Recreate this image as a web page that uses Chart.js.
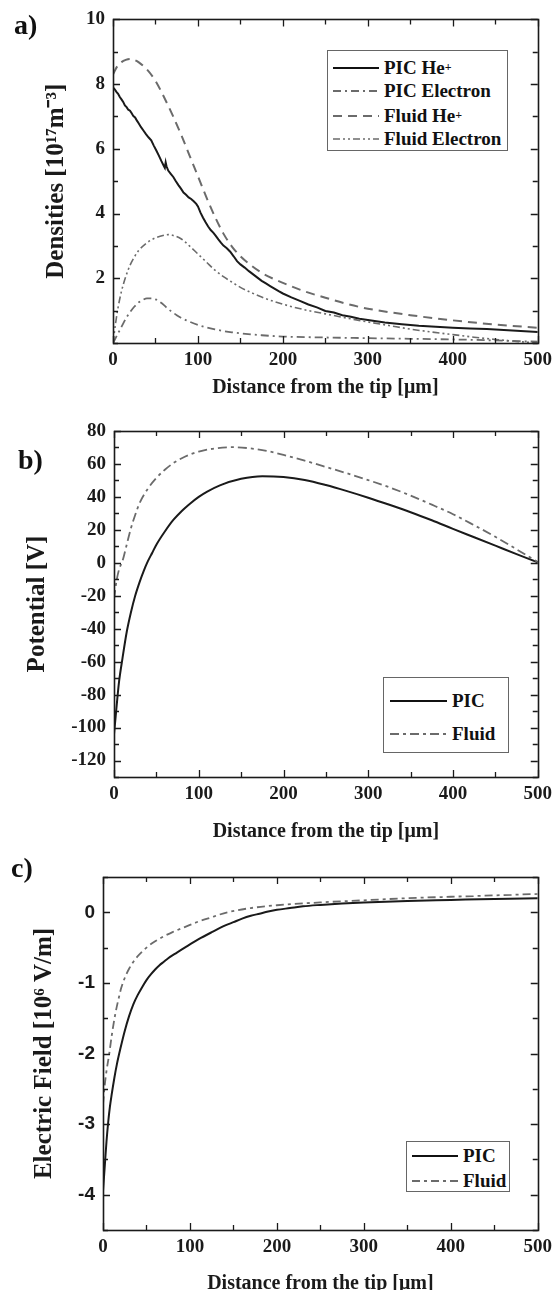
<!DOCTYPE html>
<html><head><meta charset="utf-8">
<script src="https://cdn.jsdelivr.net/npm/chart.js@4.4.1/dist/chart.umd.min.js"></script>
<style>
html,body{margin:0;padding:0;background:#fff;overflow:hidden;width:558px;height:1290px;position:relative}
canvas{position:absolute;left:0}
.lbl{position:absolute;font:bold 28px 'Liberation Serif',serif;color:#111;line-height:28px}
.leg{position:absolute;border:1px solid #666;background:#fff;box-sizing:border-box}
.row{position:absolute;display:flex;align-items:center;font:bold 19px 'Liberation Serif',serif;color:#111;white-space:nowrap;height:22px}
.row svg{margin-right:5px}
sup{font-size:12px;line-height:0;position:relative;top:-1px}
</style></head>
<body>
<canvas id="ca" width="558" height="405" style="top:0"></canvas>
<canvas id="cb" width="558" height="445" style="top:405px"></canvas>
<canvas id="cc" width="558" height="460" style="top:850px"></canvas>

<div class="lbl" style="left:14px;top:11px">a)</div>
<div class="lbl" style="left:18px;top:446px">b)</div>
<div class="lbl" style="left:11px;top:854px">c)</div>

<div class="leg" style="left:327px;top:50px;width:181px;height:101px">
  <div class="row" style="left:5px;top:6px"><svg width="46" height="6"><line x1="0" y1="3" x2="46" y2="3" stroke="#111" stroke-width="2"/></svg>PIC He<sup>+</sup></div>
  <div class="row" style="left:5px;top:29px"><svg width="46" height="6"><line x1="0" y1="3" x2="46" y2="3" stroke="#6b6b6b" stroke-width="1.8" stroke-dasharray="8,4,2,4"/></svg>PIC Electron</div>
  <div class="row" style="left:5px;top:54px"><svg width="46" height="6"><line x1="0" y1="3" x2="46" y2="3" stroke="#6b6b6b" stroke-width="2" stroke-dasharray="9,6"/></svg>Fluid He<sup>+</sup></div>
  <div class="row" style="left:5px;top:77px"><svg width="46" height="6"><line x1="0" y1="3" x2="46" y2="3" stroke="#6b6b6b" stroke-width="1.6" stroke-dasharray="7,3,2,3,2,3"/></svg>Fluid Electron</div>
</div>

<div class="leg" style="left:383px;top:677px;width:126px;height:76px">
  <div class="row" style="left:6px;top:12px"><svg width="57" height="6"><line x1="0" y1="3" x2="57" y2="3" stroke="#111" stroke-width="2"/></svg>PIC</div>
  <div class="row" style="left:6px;top:45px"><svg width="57" height="6"><line x1="0" y1="3" x2="57" y2="3" stroke="#6b6b6b" stroke-width="1.8" stroke-dasharray="9,4,3,4"/></svg>Fluid</div>
</div>

<div class="leg" style="left:406px;top:1141px;width:104px;height:51px">
  <div class="row" style="left:5px;top:3px"><svg width="46" height="6"><line x1="0" y1="3" x2="46" y2="3" stroke="#111" stroke-width="2"/></svg>PIC</div>
  <div class="row" style="left:5px;top:28px"><svg width="46" height="6"><line x1="0" y1="3" x2="46" y2="3" stroke="#6b6b6b" stroke-width="1.8" stroke-dasharray="8,4,3,4"/></svg>Fluid</div>
</div>

<script>
// ---------- Panel a: densities ----------
const picHeX = [0,2,4,6,8,10,12,14,16,18,20,22,24,26,28,30,33,36,39,42,45,48,51,54,57,60,61,62,63,65,68,71,74,77,80,83,86,89,92,95,98,100,103,106,109,112,115,118,121,124,127,130,134,138,142,146,150,155,160,165,170,175,180,185,190,195,200,210,220,230,240,250,260,270,280,290,300,320,340,360,380,400,420,440,460,480,500];
const picHeY = [7.9,7.84,7.76,7.7,7.6,7.53,7.45,7.34,7.29,7.21,7.18,7.1,7.01,6.97,6.88,6.8,6.67,6.56,6.45,6.35,6.26,6.1,5.95,5.79,5.62,5.46,5.41,5.58,5.46,5.33,5.23,5.13,5.0,4.88,4.77,4.65,4.58,4.5,4.45,4.38,4.3,4.22,4.03,3.87,3.73,3.6,3.49,3.41,3.31,3.2,3.1,3.01,2.93,2.82,2.68,2.53,2.43,2.33,2.22,2.12,2.02,1.92,1.84,1.76,1.68,1.6,1.53,1.41,1.3,1.19,1.1,0.99,0.94,0.86,0.81,0.75,0.71,0.63,0.58,0.53,0.5,0.47,0.45,0.43,0.4,0.37,0.34];
const picElX = [0,5,10,15,20,25,30,35,40,45,50,55,60,65,70,75,80,90,100,110,120,130,140,150,175,200,250,300,350,400,450,500];
const picElY = [0,0.25,0.5,0.75,0.95,1.12,1.25,1.33,1.38,1.38,1.35,1.27,1.17,1.05,0.95,0.86,0.78,0.66,0.56,0.48,0.42,0.37,0.33,0.3,0.24,0.2,0.17,0.15,0.13,0.11,0.08,0.04];
const fluHeX = [0,5,10,15,20,25,30,40,50,60,70,80,90,100,110,120,130,140,150,160,175,190,200,225,250,275,300,350,400,450,500];
const fluHeY = [8.3,8.55,8.68,8.75,8.78,8.75,8.68,8.45,8.1,7.6,7.05,6.45,5.8,5.15,4.5,3.9,3.38,2.98,2.68,2.45,2.17,1.97,1.86,1.6,1.4,1.21,1.06,0.86,0.7,0.57,0.47];
const fluElX = [0,3,6,10,15,20,25,30,40,50,60,65,70,80,90,100,110,120,130,140,150,175,200,225,250,275,300,325,350,375,400,425,450,475,500];
const fluElY = [0,0.6,1.1,1.6,2.05,2.4,2.65,2.85,3.1,3.25,3.33,3.35,3.33,3.22,3.0,2.75,2.5,2.25,2.05,1.88,1.72,1.42,1.2,1.03,0.9,0.77,0.65,0.54,0.43,0.34,0.26,0.18,0.11,0.05,0];
const aYMajor = [2,4,6,8,10];
const aYMinor = [0,1,3,5,7,9];

// ---------- Panel b: potential ----------
const potPicX = [0,2,4,6,10,15,20,25,30,35,40,45,50,60,70,80,90,100,110,125,150,175,200,225,250,275,300,325,350,375,400,425,450,475,500];
const potPicY = [-104,-93,-82,-72,-58,-42,-30,-20,-12,-5,1,6,11,19,26,31.5,36,40,43.2,47,51,52.6,52.1,50.3,47.2,43.5,39.5,35.2,30.7,25.8,20.6,15.5,10.4,5.3,0.3];
const potFluX = [0,3,6,10,15,20,25,30,40,50,60,70,80,90,100,120,140,160,180,200,225,250,275,300,325,350,375,400,425,450,475,500];
const potFluY = [-22,-11,-4,1,11,21,29,36,45,51.5,56.5,60.5,63.5,65.8,67.5,69.5,70.2,69.5,68,65.5,62,58.2,54.3,50.2,45.8,40.8,35.3,29.5,22.8,15.8,8.2,0.5];
const bYMajor = [-120,-100,-80,-60,-40,-20,0,20,40,60,80];
const bYMinor = [-130,-110,-90,-70,-50,-30,-10,10,30,50,70];

// ---------- Panel c: electric field ----------
const efPicX = [0,2,4,6,8,10,13,16,20,25,30,35,40,45,50,55,60,65,70,75,85,94,110,127,140,150,160,170,180,190,200,215,230,250,275,300,350,400,450,500];
const efPicY = [-3.95,-3.6,-3.25,-2.97,-2.75,-2.58,-2.35,-2.15,-1.93,-1.68,-1.47,-1.3,-1.17,-1.06,-0.96,-0.88,-0.81,-0.75,-0.7,-0.65,-0.57,-0.5,-0.38,-0.27,-0.19,-0.14,-0.09,-0.05,-0.02,0.01,0.035,0.06,0.085,0.105,0.125,0.14,0.16,0.175,0.19,0.2];
const efFluX = [0,2,4,7,10,14,18,21,25,30,35,40,52,60,70,80,94,110,120,143,170,200,250,300,350,400,450,500];
const efFluY = [-2.72,-2.45,-2.25,-2.02,-1.75,-1.45,-1.22,-1.07,-0.93,-0.8,-0.7,-0.62,-0.48,-0.41,-0.34,-0.28,-0.21,-0.13,-0.09,0.0,0.06,0.1,0.14,0.17,0.2,0.22,0.24,0.26];
const cYMajor = [-4,-3,-2,-1,0];
const cYMinor = [-4.5,-3.5,-2.5,-1.5,-0.5,0.5];

const xMajor = [0,100,200,300,400,500];
const xMinor = [50,150,250,350,450];

// ---------- helpers ----------
const SERIF = "'Liberation Serif','Times New Roman',serif";
const SANS = "'Liberation Sans',Arial,sans-serif";
const INK = '#1a1a1a', GREY = '#6b6b6b';
const pts = (xs, ys) => xs.map((x, i) => ({x, y: ys[i]}));
const setTicks = (major, minor) => s => { s.ticks = major.concat(minor).sort((a,b)=>a-b).map(v => ({value: v})); };
const showMajor = major => v => major.includes(v) ? String(v) : '';

// draws the plot frame and the inward major/minor tick marks on all four sides
const frameTicks = {
  id: 'frameTicks',
  afterDraw(chart, args, opts) {
    const {ctx, chartArea: a, scales} = chart;
    const xs = scales.x, ys = scales.y;
    ctx.save();
    ctx.strokeStyle = INK;
    ctx.lineWidth = 1.3;
    ctx.beginPath();
    xs.ticks.forEach(t => {
      const p = Math.round(xs.getPixelForValue(t.value)) + 0.5;
      const L = opts.xMajor.includes(t.value) ? 7 : 5;
      ctx.moveTo(p, a.bottom); ctx.lineTo(p, a.bottom - L);
      ctx.moveTo(p, a.top); ctx.lineTo(p, a.top + L);
    });
    ys.ticks.forEach(t => {
      const p = Math.round(ys.getPixelForValue(t.value)) + 0.5;
      const L = opts.yMajor.includes(t.value) ? 7 : 5;
      ctx.moveTo(a.left, p); ctx.lineTo(a.left + L, p);
      ctx.moveTo(a.right, p); ctx.lineTo(a.right - L, p);
    });
    ctx.stroke();
    ctx.lineWidth = 1.6;
    ctx.strokeRect(Math.round(a.left) + 0.5, Math.round(a.top) + 0.5,
                   Math.round(a.right - a.left), Math.round(a.bottom - a.top));
    ctx.restore();
  }
};

function makeScales(o) {
  return {
    x: {
      type: 'linear', position: 'bottom', min: 0, max: 500,
      afterBuildTicks: setTicks(xMajor, xMinor),
      afterFit: s => { s.height = o.xH; },
      border: {display: false},
      grid: {display: false, drawTicks: false},
      ticks: {autoSkip: false, maxRotation: 0, padding: 6, color: INK,
              font: {family: SERIF, weight: 'bold', size: 19}, callback: showMajor(xMajor)},
      title: {display: true, text: 'Distance from the tip [μm]', color: INK,
              font: {family: SERIF, weight: 'bold', size: 20}, padding: {top: 0, bottom: o.xtPad}}
    },
    y: {
      type: 'linear', position: 'left', min: o.ymin, max: o.ymax,
      afterBuildTicks: setTicks(o.yMajor, o.yMinor),
      afterFit: s => { s.width = o.left; },
      border: {display: false},
      grid: {display: false, drawTicks: false},
      ticks: {autoSkip: false, padding: 8, color: INK,
              font: {family: o.yFont, weight: 'bold', size: o.yFs}, callback: showMajor(o.yMajor)},
      title: {display: true, text: o.yTitle, color: INK,
              font: {family: SERIF, weight: 'bold', size: 25}, padding: {top: o.ytPad, bottom: 0}}
    }
  };
}

function ds(label, xs, ys, color, width, dash, smooth) {
  return {label, data: pts(xs, ys), borderColor: color, borderWidth: width, borderDash: dash,
          pointRadius: 0, fill: false, tension: 0,
          cubicInterpolationMode: smooth ? 'monotone' : 'default'};
}

function make(id, datasets, o) {
  new Chart(document.getElementById(id), {
    type: 'line',
    data: {datasets},
    options: {
      responsive: false, animation: false, devicePixelRatio: 1,
      layout: {padding: {top: o.top, right: o.right, left: 0, bottom: 0}},
      plugins: {legend: {display: false}, tooltip: {enabled: false},
                frameTicks: {xMajor: xMajor, yMajor: o.yMajor}},
      scales: makeScales(o)
    },
    plugins: [frameTicks]
  });
}

make('ca', [
  ds('Fluid Electron', fluElX, fluElY, GREY, 1.6, [7,3,2,3,2,3], true),
  ds('PIC Electron', picElX, picElY, GREY, 1.8, [8,4,2,4], true),
  ds('Fluid He+', fluHeX, fluHeY, GREY, 2, [9,6], true),
  ds('PIC He+', picHeX, picHeY, INK, 2, [], false)
], {xH: 62, xtPad: 5, top: 18, left: 113, right: 17, ymin: 0, ymax: 10,
    yMajor: aYMajor, yMinor: aYMinor, yFont: SERIF, yFs: 19,
    yTitle: 'Densities [10¹⁷m⁻³]', ytPad: 42});

make('cb', [
  ds('Fluid', potFluX, potFluY, GREY, 1.8, [9,4,3,4], true),
  ds('PIC', potPicX, potPicY, INK, 2, [], true)
], {xH: 73, xtPad: 6, top: 26, left: 114, right: 17, ymin: -130, ymax: 80,
    yMajor: bYMajor, yMinor: bYMinor, yFont: SERIF, yFs: 19,
    yTitle: 'Potential [V]', ytPad: 23});

make('cc', [
  ds('Fluid', efFluX, efFluY, GREY, 1.8, [8,4,3,4], true),
  ds('PIC', efPicX, efPicY, INK, 2, [], true)
], {xH: 80, xtPad: 14, top: 27, left: 103, right: 17, ymin: -4.5, ymax: 0.5,
    yMajor: cYMajor, yMinor: cYMinor, yFont: SANS, yFs: 19,
    yTitle: 'Electric Field [10⁶ V/m]', ytPad: 30});
</script>
</body></html>
